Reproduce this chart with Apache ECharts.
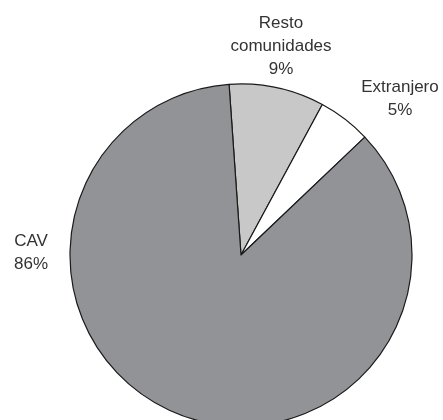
<!DOCTYPE html>
<html>
<head>
<meta charset="utf-8">
<script src="https://cdn.jsdelivr.net/npm/echarts@6/dist/echarts.min.js"></script>
<style>
html,body{margin:0;padding:0;background:#fff;}
#c{width:443px;height:420px;}
</style>
</head>
<body>
<div id="c"></div>
<script>
var categories = ['Resto\ncomunidades', 'Extranjero', 'CAV'];
var values = [9, 5, 86];
var colors = ['#c8c8c8', '#ffffff', '#929396'];
var labelPos = [[281, 46], [400, 99], [31, 253]];

var chart = echarts.init(document.getElementById('c'));
chart.setOption({
  backgroundColor: '#fff',
  animation: false,
  series: [{
    type: 'pie',
    center: [241, 255],
    radius: 171,
    startAngle: 94,
    clockwise: true,
    data: categories.map(function (c, i) {
      return { name: c, value: values[i], itemStyle: { color: colors[i] } };
    }),
    itemStyle: { borderColor: '#1a1a1a', borderWidth: 1.2 },
    label: {
      show: true,
      formatter: '{b}\n{d}%',
      fontFamily: 'Liberation Sans, Arial, sans-serif',
      fontSize: 17,
      lineHeight: 23,
      color: '#333333',
      align: 'center',
      overflow: 'none'
    },
    labelLine: { show: false },
    labelLayout: function (p) {
      var pos = labelPos[p.dataIndex];
      return { x: pos[0], y: pos[1], align: 'center', verticalAlign: 'middle', hideOverlap: false };
    },
    emphasis: { disabled: true }
  }]
});
</script>
</body>
</html>
